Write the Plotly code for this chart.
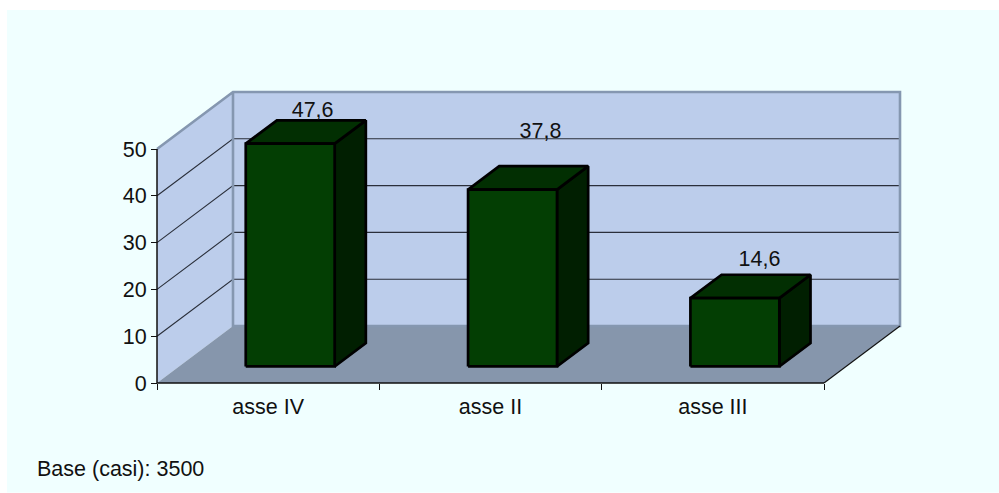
import plotly.graph_objects as go

categories = ["asse IV", "asse II", "asse III"]
values = [47.6, 37.8, 14.6]
value_labels = ["47,6", "37,8", "14,6"]
y_ticks = [0, 10, 20, 30, 40, 50]
note = "Base (casi): 3500"

W, H = 999, 493
OX, OY = 157, 383                    # pixel position of the axes origin
UX = (824 - 157) / 3                 # pixels per category
UY = (383 - 149) / 50                # pixels per value unit
L, B = 151, 389                      # plot box, slightly larger than the axes
R, T = 905, 85                       # it also holds the depth of the 3D box
DEPTH_X = 76 / UX                    # depth vector in axis units
DEPTH_Y = 57 / UY
BAR_W = 0.40
BAR_D0, BAR_D1 = 0.29, 0.70
LABEL_SHIFT_X = [0.20, 0.225, 0.21]
LABEL_LIFT = [10.3, 15.8, 11.5]

FONT = "Liberation Sans"
FS = 21.5
C_PANEL = "#F0FFFF"
C_WALL = "#BCCDEB"
C_FLOOR = "#8696AC"
C_EDGE = "#8597B0"
C_FRONT = "#033E03"
C_TOP = "#022F02"
C_SIDE = "#011F01"


def pr(x, v, d=0.0):
    return x + d * DEPTH_X, v + d * DEPTH_Y


def poly(points, fill=None, line=None, width=1.0, closed=True):
    xs, ys = zip(*points)
    xs, ys = list(xs), list(ys)
    if closed:
        xs.append(xs[0])
        ys.append(ys[0])
    return go.Scatter(
        x=xs, y=ys, mode="lines", showlegend=False,
        hoverinfo="skip",
        fill="toself" if fill else None, fillcolor=fill,
        line=dict(color=line if line else "rgba(0,0,0,0)", width=width, simplify=False),
    )


n = len(categories)
top = max(y_ticks)
traces = []

# walls and floor
traces.append(poly([pr(0, 0), pr(0, top), pr(0, top, 1), pr(0, 0, 1)], fill=C_WALL))
traces.append(poly([pr(0, 0, 1), pr(0, top, 1), pr(n, top, 1), pr(n, 0, 1)], fill=C_WALL))
traces.append(poly([pr(0, 0), pr(0, 0, 1), pr(n, 0, 1), pr(n, 0)], fill=C_FLOOR))

# grid lines on both walls
for t in y_ticks[1:-1]:
    traces.append(poly([pr(0, t), pr(0, t, 1), pr(n, t, 1)], line="#2A2F3A", width=1.1, closed=False))

# wall edges
traces.append(poly([pr(0, top), pr(0, top, 1), pr(n, top, 1), pr(n, 0, 1), pr(0, 0, 1), pr(0, top, 1)],
                   line=C_EDGE, width=2.6, closed=False))
traces.append(poly([pr(n, 0), pr(n, 0, 1)], line="#111111", width=1.1, closed=False))

# axis lines: only as long as the value and category ranges
traces.append(poly([pr(0, top), pr(0, 0), pr(n, 0)], line="#111111", width=1.5, closed=False))

# bars
for i, v in enumerate(values):
    x0 = i + 0.5 - BAR_W / 2
    x1 = i + 0.5 + BAR_W / 2
    traces.append(poly([pr(x1, 0, BAR_D0), pr(x1, 0, BAR_D1), pr(x1, v, BAR_D1), pr(x1, v, BAR_D0)],
                       fill=C_SIDE, line="#000000", width=2.7))
    traces.append(poly([pr(x0, v, BAR_D0), pr(x0, v, BAR_D1), pr(x1, v, BAR_D1), pr(x1, v, BAR_D0)],
                       fill=C_TOP, line="#000000", width=2.7))
    traces.append(poly([pr(x0, 0, BAR_D0), pr(x0, v, BAR_D0), pr(x1, v, BAR_D0), pr(x1, 0, BAR_D0)],
                       fill=C_FRONT, line="#000000", width=2.7))

# value labels
traces.append(go.Scatter(
    x=[i + 0.5 + LABEL_SHIFT_X[i] for i in range(n)],
    y=[values[i] + LABEL_LIFT[i] for i in range(n)],
    mode="text", text=value_labels, textposition="middle center",
    textfont=dict(family=FONT, size=FS, color="#111111"),
    showlegend=False, hoverinfo="skip",
))

fig = go.Figure(traces)
span_x, span_y = R - L, B - T
fig.update_layout(
    width=W, height=H,
    autosize=False,
    margin=dict(l=L, r=W - R, t=T, b=H - B, pad=0),
    paper_bgcolor="white",
    plot_bgcolor="rgba(0,0,0,0)",
    font=dict(family=FONT, size=FS, color="#111111"),
    showlegend=False,
    xaxis=dict(
        range=[(L - OX) / UX, (R - OX) / UX], tickmode="array",
        tickvals=[i + 0.5 for i in range(n)], ticktext=categories,
        ticks="", showgrid=False, zeroline=False, showline=False,
        minor=dict(tickmode="array", tickvals=list(range(n + 1)), ticks="outside",
                   ticklen=6, tickwidth=1.2, tickcolor="#111111", showgrid=False),
        tickfont=dict(family=FONT, size=FS, color="#111111"),
        ticklabelstandoff=8,
        anchor="free", position=(B - OY) / span_y,
    ),
    yaxis=dict(
        range=[(OY - B) / UY, (OY - T) / UY], tickmode="array", tickvals=y_ticks,
        ticks="outside", ticklen=6, tickwidth=1.2, tickcolor="#111111",
        showgrid=False, zeroline=False, showline=False,
        tickfont=dict(family=FONT, size=FS, color="#111111"),
        anchor="free", position=(OX - L) / span_x,
    ),
    shapes=[dict(
        type="rect", layer="below", xref="paper", yref="paper",
        x0=(7 - L) / span_x, x1=(999 - L) / span_x,
        y0=(B - 492.5) / span_y, y1=(B - 10) / span_y,
        fillcolor=C_PANEL, line=dict(width=0),
    )],
    annotations=[dict(
        text=note, xref="paper", yref="paper", showarrow=False,
        x=(35 - L) / span_x, y=(B - 469) / span_y, xanchor="left", yanchor="middle",
        font=dict(family=FONT, size=FS, color="#111111"),
    )],
)
fig.write_html(
    "out.html",
    config=dict(displayModeBar=False),
    post_script="document.body.style.margin='0';document.body.style.overflow='hidden';",
)
